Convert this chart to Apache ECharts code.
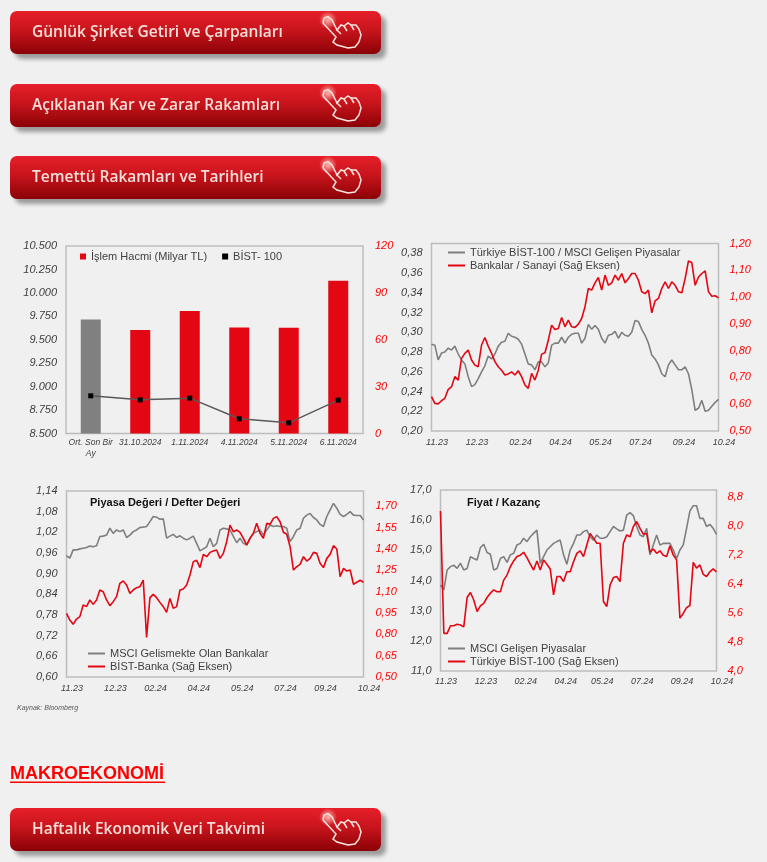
<!DOCTYPE html>
<html>
<head>
<meta charset="utf-8">
<title>Piyasa Grafikleri</title>
<script src="https://cdn.jsdelivr.net/npm/echarts@6/dist/echarts.min.js"></script>
<style>
  html, body { margin: 0; padding: 0; background: #f0f0f0; }
  #main { width: 767px; height: 862px; }
</style>
</head>
<body>
<div id="main"></div>
<script>
// chart 1
const volumeDays = ["Ort. Son Bir\nAy", "31.10.2024", "1.11.2024", "4.11.2024", "5.11.2024", "6.11.2024"];
const volumeValues = [73, 66.2, 78.4, 67.9, 67.7, 97.8];
const bist100Values = [8902, 8859, 8877, 8657, 8614, 8856];

// the three time series charts share these tick labels
const timeTicks = ["11.23", "12.23", "02.24", "04.24", "05.24", "07.24", "09.24", "10.24"];

// chart 2
const turkeyVsMsci = [0.288,0.287,0.272,0.279,0.280,0.284,0.282,0.286,0.278,0.272,0.268,0.255,0.245,0.247,0.253,0.260,0.266,0.276,0.273,0.278,0.286,0.290,0.291,0.299,0.296,0.295,0.293,0.288,0.278,0.268,0.267,0.262,0.270,0.270,0.265,0.269,0.287,0.289,0.289,0.295,0.289,0.295,0.298,0.299,0.299,0.289,0.294,0.308,0.303,0.307,0.303,0.294,0.289,0.297,0.298,0.301,0.294,0.300,0.297,0.296,0.300,0.312,0.311,0.303,0.297,0.289,0.277,0.273,0.267,0.258,0.255,0.267,0.272,0.267,0.262,0.262,0.265,0.258,0.242,0.221,0.223,0.231,0.220,0.221,0.225,0.229,0.232];
const banksVsIndustry = [0.628,0.603,0.601,0.613,0.622,0.655,0.665,0.703,0.690,0.771,0.790,0.802,0.765,0.746,0.740,0.821,0.849,0.817,0.790,0.759,0.740,0.727,0.709,0.713,0.721,0.709,0.725,0.703,0.672,0.659,0.715,0.690,0.727,0.787,0.792,0.839,0.895,0.879,0.883,0.924,0.889,0.914,0.889,0.887,0.899,0.920,0.964,1.032,1.026,1.053,1.073,1.026,1.082,1.044,1.053,1.082,1.063,1.088,1.053,1.069,1.088,1.088,1.063,1.020,1.013,1.026,0.941,0.986,0.995,1.032,1.057,1.032,1.057,1.044,1.020,1.016,1.069,1.135,1.129,1.044,1.075,1.088,1.098,1.020,1.003,1.005,0.997];

// chart 3
const emBanksPb = [0.952,0.945,0.969,0.969,0.972,0.974,0.976,0.980,0.978,0.981,1.008,1.009,1.012,1.032,1.017,1.027,1.022,1.027,1.005,1.012,1.022,1.027,1.034,1.035,1.037,1.051,1.066,1.064,1.058,1.059,1.003,1.009,1.014,1.005,1.010,1.003,0.998,1.003,1.009,0.988,0.966,0.972,0.978,1.003,0.978,0.988,1.027,1.032,1.030,1.027,1.008,0.990,1.003,0.988,0.983,1.003,1.017,1.022,1.027,1.012,1.027,1.041,1.037,1.039,1.037,1.037,1.032,0.993,1.008,1.027,1.032,1.061,1.070,1.075,1.063,1.056,1.043,1.037,1.066,1.085,1.104,1.090,1.072,1.066,1.072,1.080,1.070,1.069,1.069,1.056];
const bistBankPb = [0.947,0.900,0.870,0.907,0.924,1.005,0.994,1.041,1.010,1.041,1.111,1.099,1.041,1.001,1.029,1.064,1.158,1.174,1.146,1.087,1.111,1.127,1.134,1.181,0.778,1.057,1.080,1.057,1.024,0.994,0.954,1.052,0.982,0.994,1.111,1.118,1.146,1.216,1.310,1.319,1.268,1.361,1.345,1.375,1.385,1.392,1.333,1.368,1.450,1.567,1.520,1.532,1.516,1.473,1.427,1.473,1.509,1.579,1.509,1.473,1.579,1.572,1.614,1.626,1.590,1.516,1.502,1.415,1.251,1.275,1.291,1.345,1.314,1.333,1.375,1.368,1.298,1.268,1.333,1.361,1.422,1.399,1.204,1.263,1.244,1.251,1.151,1.165,1.179,1.165];

// chart 4
const msciEmPe = [13.85,13.69,14.35,14.46,14.51,14.40,14.57,14.35,14.40,14.79,14.73,14.68,15.09,15.20,14.93,14.87,14.35,14.40,14.73,14.79,14.60,14.85,14.90,15.18,15.23,15.40,15.29,15.45,15.56,15.67,14.57,14.79,15.01,15.12,15.23,15.29,15.34,14.85,14.54,15.01,15.23,15.51,15.51,15.62,15.67,15.45,15.34,15.51,15.40,15.40,15.45,15.62,15.79,15.71,15.64,15.67,16.17,16.25,16.15,15.79,15.51,15.45,15.73,14.85,15.18,15.51,15.18,15.23,15.23,15.23,15.01,14.73,15.01,15.18,15.73,16.30,16.48,16.48,16.06,16.06,15.79,15.86,15.73,15.53];
const bist100Pe = [8.42,5.04,5.04,5.25,5.25,5.29,5.27,5.22,6.03,6.17,5.96,5.64,5.80,5.87,6.03,6.15,6.24,6.19,6.19,6.51,6.65,6.88,7.04,7.16,7.20,7.28,7.13,6.95,6.79,7.04,6.79,7.07,6.95,6.82,6.10,6.61,6.61,6.47,6.74,6.74,7.02,7.25,7.32,7.16,7.48,7.80,7.67,7.53,7.53,5.92,5.78,6.38,6.58,6.61,6.47,7.53,7.76,7.71,7.99,8.13,7.94,7.78,7.80,7.28,7.37,7.25,7.32,7.20,7.16,7.46,7.20,7.07,5.46,5.59,5.75,5.81,7.00,6.84,6.93,6.67,6.61,6.74,6.82,6.74];

const buttonLabels = ["Günlük Şirket Getiri ve Çarpanları", "Açıklanan Kar ve Zarar Rakamları", "Temettü Rakamları ve Tarihleri", "Haftalık Ekonomik Veri Takvimi"];
const buttonTops = [11, 84, 156, 808];

const RED = "#e30613";
const GREY = "#7f7f7f";
const FONT = "Liberation Sans";

// empty strings everywhere except the evenly spread tick positions
function timeCategories(n) {
  const cats = new Array(n).fill("");
  timeTicks.forEach((t, i) => {
    cats[Math.round((i * (n - 1)) / (timeTicks.length - 1))] = t;
  });
  return cats;
}

function gridBox(left, top, width, height) {
  return { left, top, width, height, show: true, borderColor: "#bdbdbd", borderWidth: 1.5, backgroundColor: "transparent" };
}

function timeAxis(gridIndex, data, margin) {
  return {
    type: "category",
    gridIndex,
    data: timeCategories(data.length),
    boundaryGap: false,
    axisLine: { show: false },
    axisTick: { show: false },
    axisLabel: {
      interval: (i, v) => v !== "",
      margin,
      padding: [0, 0, 0, 11],
      fontFamily: FONT,
      fontStyle: "italic",
      fontSize: 9,
      color: "#404040",
    },
  };
}

function valueAxis(gridIndex, position, min, max, interval, digits, margin) {
  return {
    type: "value",
    gridIndex,
    position,
    min,
    max,
    interval,
    splitLine: { show: false },
    axisLine: { show: false },
    axisTick: { show: false },
    axisLabel: {
      margin,
      showMaxLabel: (max - min) % interval < interval / 1000 || (max - min) % interval > interval * 0.999,
      fontFamily: FONT,
      fontStyle: "italic",
      fontSize: 11,
      color: position === "left" ? "#404040" : "#ff0000",
      formatter: (v) => v.toFixed(digits).replace(".", ","),
    },
  };
}

function line(name, data, color, xi, yi) {
  return {
    name,
    type: "line",
    data,
    xAxisIndex: xi,
    yAxisIndex: yi,
    showSymbol: false,
    lineStyle: { color, width: 1.6 },
    itemStyle: { color },
  };
}

function lineLegend(left, top, names) {
  return {
    left,
    top,
    orient: "vertical",
    data: names,
    selectedMode: false,
    icon: "rect",
    itemWidth: 17,
    itemHeight: 2,
    itemGap: 2,
    padding: 0,
    textStyle: { fontFamily: FONT, fontSize: 11, color: "#404040" },
  };
}

function handStroke(points, smooth) {
  return {
    type: "polyline",
    shape: { points, smooth: smooth || 0 },
    style: { fill: "none", stroke: "#f8e6e0", lineWidth: 1.5 },
  };
}

// the red "click here" buttons
function button(label, top) {
  return {
    type: "group",
    x: 10,
    y: top,
    children: [
      {
        type: "rect",
        shape: { x: 0, y: 0, width: 371, height: 43, r: 7 },
        style: {
          fill: new echarts.graphic.LinearGradient(0, 0, 0, 1, [
            { offset: 0, color: "#e71f2a" },
            { offset: 0.45, color: "#c8141c" },
            { offset: 1, color: "#8a0206" },
          ]),
          shadowColor: "rgba(70,70,70,0.5)",
          shadowBlur: 4,
          shadowOffsetX: 5,
          shadowOffsetY: 5,
        },
      },
      {
        type: "circle",
        shape: { cx: 318, cy: 9, r: 9 },
        style: {
          fill: new echarts.graphic.RadialGradient(0.5, 0.5, 0.5, [
            { offset: 0, color: "rgba(255,190,180,0.95)" },
            { offset: 1, color: "rgba(255,190,180,0)" },
          ]),
        },
      },
      handStroke([[313, 12], [314, 7], [318, 5.5], [322, 9], [327, 19], [331, 14], [334, 15], [338, 12], [341, 14], [346, 14], [349, 18], [351, 24], [349, 31], [345, 36], [338, 37], [327, 34], [323, 31], [326, 26], [313, 12]]),
      handStroke([[327, 19], [331, 23]]),
      handStroke([[334, 15], [337, 20]]),
      handStroke([[341, 14], [344, 19]]),
      {
        type: "text",
        x: 22,
        y: 21.5,
        style: {
          text: label,
          fontFamily: "Open Sans",
          fontSize: 15.5,
          fontWeight: 600,
          fill: "#f6dfd9",
          verticalAlign: "middle",
        },
      },
    ],
  };
}

const chart = echarts.init(document.getElementById("main"));

chart.setOption({
  animation: false,
  backgroundColor: "#f0f0f0",
  title: [
    { text: "Piyasa Değeri / Defter Değeri", left: 90, top: 497, padding: 0, textStyle: { fontFamily: FONT, fontSize: 11, fontWeight: "bold", color: "#111" } },
    { text: "Fiyat / Kazanç", left: 467, top: 497, padding: 0, textStyle: { fontFamily: FONT, fontSize: 11, fontWeight: "bold", color: "#111" } },
    { text: "Kaynak: Bloomberg", left: 17, top: 705, padding: 0, textStyle: { fontFamily: FONT, fontSize: 7, fontStyle: "italic", fontWeight: "normal", color: "#555" } },
  ],
  legend: [
    {
      left: 80,
      top: 251,
      padding: 0,
      data: [
        { name: "İşlem Hacmi (Milyar TL)", icon: "rect" },
        { name: "BİST- 100", icon: "rect", itemStyle: { color: "#000" } },
      ],
      selectedMode: false,
      itemWidth: 6,
      itemHeight: 6,
      itemGap: 15,
      textStyle: { fontFamily: FONT, fontSize: 11, color: "#404040" },
    },
    lineLegend(448, 247, ["Türkiye BİST-100 / MSCI Gelişen Piyasalar", "Bankalar / Sanayi (Sağ Eksen)"]),
    lineLegend(88, 648, ["MSCI Gelismekte Olan Bankalar", "BİST-Banka (Sağ Eksen)"]),
    lineLegend(448, 643, ["MSCI Gelişen Piyasalar", "Türkiye BİST-100 (Sağ Eksen)"]),
  ],
  grid: [gridBox(66, 246, 297, 187.5), gridBox(431.5, 243.5, 287, 187.5), gridBox(66.5, 491, 297, 186), gridBox(440.5, 490, 276, 181)],
  xAxis: [
    {
      type: "category",
      gridIndex: 0,
      data: volumeDays,
      axisLine: { show: false },
      axisTick: { show: false },
      axisLabel: { interval: 0, margin: 4, fontFamily: FONT, fontStyle: "italic", fontSize: 8.5, color: "#404040", lineHeight: 11 },
    },
    timeAxis(1, turkeyVsMsci, 7),
    timeAxis(2, emBanksPb, 7),
    timeAxis(3, msciEmPe, 6),
  ],
  yAxis: [
    {
      ...valueAxis(0, "left", 8500, 10500, 250, 0, 9),
      axisLabel: {
        margin: 9,
        fontFamily: FONT,
        fontStyle: "italic",
        fontSize: 11,
        color: "#404040",
        formatter: (v) => String(v).replace(/(\d)(\d{3})$/, "$1.$2"),
      },
    },
    valueAxis(0, "right", 0, 120, 30, 0, 12),
    valueAxis(1, "left", 0.2, 0.39, 0.02, 2, 9),
    valueAxis(1, "right", 0.5, 1.2, 0.1, 2, 11),
    valueAxis(2, "left", 0.6, 1.14, 0.06, 2, 9),
    valueAxis(2, "right", 0.5, 1.806, 0.15, 2, 12),
    valueAxis(3, "left", 11, 17, 1, 1, 9),
    valueAxis(3, "right", 4, 9, 0.8, 1, 11),
  ],
  series: [
    {
      name: "İşlem Hacmi (Milyar TL)",
      type: "bar",
      xAxisIndex: 0,
      yAxisIndex: 1,
      barWidth: 20,
      itemStyle: { color: RED },
      data: volumeValues.map((v, i) => (i === 0 ? { value: v, itemStyle: { color: "#808080" } } : v)),
    },
    {
      name: "BİST- 100",
      type: "line",
      xAxisIndex: 0,
      yAxisIndex: 0,
      data: bist100Values,
      symbol: "rect",
      symbolSize: 5,
      lineStyle: { color: "#595959", width: 1.5 },
      itemStyle: { color: "#000" },
    },
    line("Türkiye BİST-100 / MSCI Gelişen Piyasalar", turkeyVsMsci, GREY, 1, 2),
    line("Bankalar / Sanayi (Sağ Eksen)", banksVsIndustry, RED, 1, 3),
    line("MSCI Gelismekte Olan Bankalar", emBanksPb, GREY, 2, 4),
    line("BİST-Banka (Sağ Eksen)", bistBankPb, RED, 2, 5),
    line("MSCI Gelişen Piyasalar", msciEmPe, GREY, 3, 6),
    line("Türkiye BİST-100 (Sağ Eksen)", bist100Pe, RED, 3, 7),
  ],
  graphic: [
    ...buttonLabels.map((label, i) => button(label, buttonTops[i])),
    {
      type: "text",
      x: 10,
      y: 765,
      style: { text: "MAKROEKONOMİ", fontFamily: FONT, fontSize: 18, fontWeight: "bold", fill: "#ff0000" },
    },
    { type: "rect", shape: { x: 10, y: 781.5, width: 155, height: 1.5 }, style: { fill: "#ff0000" } },
  ],
});
</script>
</body>
</html>
